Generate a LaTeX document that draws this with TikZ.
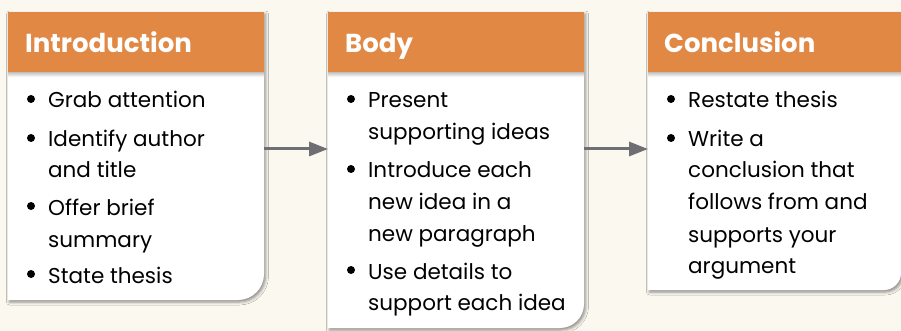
\documentclass[tikz,border=0pt]{standalone}
\usepackage{fontspec}
\setmainfont{Poppins}
\usetikzlibrary{arrows.meta,shadows.blur}

\definecolor{paper}{HTML}{FBF8F0}
\definecolor{band}{HTML}{E08844}
\definecolor{flowgray}{HTML}{6E6F72}

\tikzset{
  cardbody/.style={fill=white,
    blur shadow={shadow xshift=1.5pt, shadow yshift=-2pt,
                 shadow blur radius=3pt, shadow opacity=45}},
  headtext/.style={anchor=base west, inner sep=0pt, text=white,
    font=\fontsize{26}{30}\selectfont\bfseries},
  itemtext/.style={anchor=base west, inner sep=0pt,
    font=\fontsize{21.5}{26}\selectfont},
  dot/.style={fill=black, circle, inner sep=0pt, minimum size=8pt},
  flow/.style={draw=flowgray, line width=3pt,
    -{Triangle[length=19pt,width=14pt]}},
}

% card: left, right, top, bottom, corner radius (bottom right corner only)
\newcommand\cardshape[5]{%
  \path[cardbody] (#1,#3) -- (#2,#3) -- (#2,{#4-#5})
     arc[start angle=0, end angle=90, radius=#5] -- (#1,#4) -- cycle;
  \fill[band] (#1,#3) rectangle (#2,73);
  \shade[top color=black!20, bottom color=white] (#1,73) rectangle (#2,77);
}

\begin{document}
\begin{tikzpicture}[x=1pt, y=-1pt]
  \fill[paper] (0,0) rectangle (901,331);
  \useasboundingbox (0,0) rectangle (901,331);

  % the three cards
  \cardshape{8}{264}{12}{300}{26}
  \cardshape{328}{584}{12}{328}{24}
  \cardshape{648}{901}{12}{290}{17}

  % headings
  \node[headtext] (hintro) at (25,53) {Introduction};
  \node[headtext] (hbody)  at (345,53) {Body};
  \node[headtext] (hconc)  at (664,53) {Conclusion};

  % introduction items
  \node[dot] (d1a) at (31,99) {};
  \node[itemtext] (t1a) at (48,108) {Grab attention};
  \node[dot] (d1b) at (31,138) {};
  \node[itemtext] (t1b) at (48,147) {Identify author};
  \node[itemtext] (t1c) at (48,178) {and title};
  \node[dot] (d1d) at (31,206) {};
  \node[itemtext] (t1d) at (48,215) {Offer brief};
  \node[itemtext] (t1e) at (48,247) {summary};
  \node[dot] (d1f) at (31,274) {};
  \node[itemtext] (t1f) at (48,283) {State thesis};

  % body items
  \node[dot] (d2a) at (351,99) {};
  \node[itemtext] (t2a) at (368,108) {Present};
  \node[itemtext] (t2b) at (368,140) {supporting ideas};
  \node[dot] (d2c) at (351,169) {};
  \node[itemtext] (t2c) at (368,178) {Introduce each};
  \node[itemtext] (t2d) at (368,209.5) {new idea in a};
  \node[itemtext] (t2e) at (368,241.5) {new paragraph};
  \node[dot] (d2f) at (351,270) {};
  \node[itemtext] (t2f) at (368,279) {Use details to};
  \node[itemtext] (t2g) at (368,310) {support each idea};

  % conclusion items
  \node[dot] (d3a) at (671,99) {};
  \node[itemtext] (t3a) at (688,108) {Restate thesis};
  \node[dot] (d3b) at (671,138) {};
  \node[itemtext] (t3b) at (688,147) {Write a};
  \node[itemtext] (t3c) at (688,178) {conclusion that};
  \node[itemtext] (t3d) at (688,209.5) {follows from and};
  \node[itemtext] (t3e) at (688,242) {supports your};
  \node[itemtext] (t3f) at (688,273) {argument};

  % connectors between the cards
  \coordinate (introE) at (264,149);
  \coordinate (bodyW)  at (328,149);
  \coordinate (bodyE)  at (584,149);
  \coordinate (concW)  at (648,149);
  \draw[flow] (introE) -- (bodyW);
  \draw[flow] (bodyE) -- (concW);
\end{tikzpicture}
\end{document}
